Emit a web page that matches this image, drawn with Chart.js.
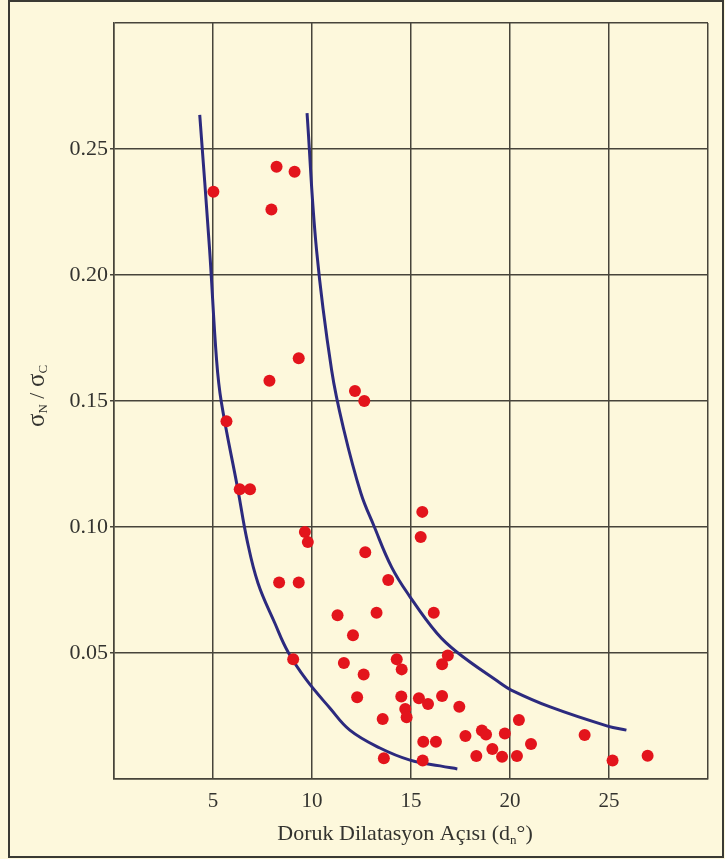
<!DOCTYPE html>
<html><head><meta charset="utf-8">
<script src="https://cdn.jsdelivr.net/npm/chart.js@4/dist/chart.umd.min.js"></script>
<style>html,body{margin:0;padding:0;background:#fdf8dc;}canvas{display:block}</style>
</head><body>
<canvas id="c" width="725" height="859"></canvas>
<script>
// ---- data ----
const xTicks = [0, 5, 10, 15, 20, 25, 30];
const yTicks = [0, 0.05, 0.10, 0.15, 0.20, 0.25, 0.30];
const xTitleMain = "Doruk Dilatasyon Açısı (d";
const xTitleSub = "n";
const xTitleEnd = "°)";
const yTitleParts = ["σ", "N", " / ", "σ", "C"];

const pointsX = [5.02, 8.21, 9.12, 7.95, 7.85, 9.33, 12.17, 12.64, 5.68, 6.35, 6.87,
  15.57, 15.49, 9.64, 9.79, 12.69, 8.34, 9.33, 11.29, 13.26, 12.07, 9.05, 11.61, 12.61,
  13.85, 16.15, 14.28, 14.53, 16.86, 16.57, 12.28, 14.51, 15.40, 15.86, 14.71, 14.78,
  13.57, 15.62, 16.26, 13.63, 15.59, 16.57, 17.44, 20.45, 23.77, 18.58, 18.79, 19.74,
  17.75, 21.06, 19.11, 18.30, 19.60, 20.35, 25.18, 26.95];
const pointsY = [0.233, 0.243, 0.241, 0.226, 0.158, 0.167, 0.154, 0.150, 0.142, 0.115, 0.115,
  0.106, 0.096, 0.098, 0.094, 0.090, 0.078, 0.078, 0.065, 0.066, 0.057, 0.0475, 0.046, 0.0415,
  0.079, 0.066, 0.0475, 0.0435, 0.049, 0.0455, 0.0324, 0.0327, 0.032, 0.0298, 0.0278, 0.0245,
  0.0238, 0.0148, 0.0148, 0.0082, 0.0073, 0.0329, 0.0287, 0.0234, 0.0175, 0.0192, 0.0177, 0.0181,
  0.0171, 0.0139, 0.0119, 0.0091, 0.0088, 0.0091, 0.0073, 0.0092];

const leftCurveX = [4.33, 4.83, 5.18, 5.42, 6.26, 6.72, 7.27, 8.12, 8.79, 9.72, 10.90, 11.91,
  13.43, 14.95, 16.47, 17.34];
const leftCurveY = [0.2635, 0.2099, 0.1663, 0.1496, 0.1147, 0.0948, 0.0778, 0.0619, 0.0504, 0.0393,
  0.0282, 0.0194, 0.0123, 0.0075, 0.0052, 0.004];

const rightCurveX = [9.75, 10.23, 10.99, 11.61, 12.47, 13.13, 14.02, 14.95, 16.30, 17.31, 19.50,
  20.06, 22.03, 24.93, 25.88];
const rightCurveY = [0.2642, 0.2099, 0.1623, 0.1385, 0.1134, 0.1004, 0.0841, 0.0723, 0.0579, 0.0504,
  0.0381, 0.0353, 0.0286, 0.0210, 0.0194];

// ---- styling ----
const BG = '#fdf8dc';
const GRID = '#47443a';
const TEXT = '#33332f';
const RED = '#e3141c';
const BLUE = '#2c2a7e';
const SERIF = '"Liberation Serif", "Times New Roman", serif';

const toXY = (xs, ys) => xs.map((x, i) => ({x: x, y: ys[i]}));
const isEdgeY = v => Math.abs(v) < 1e-9 || Math.abs(v - 0.3) < 1e-9;

const decor = {
  id: 'decor',
  beforeDraw(chart) {
    const ctx = chart.ctx;
    ctx.save();
    ctx.fillStyle = BG;
    ctx.fillRect(0, 0, chart.width, chart.height);
    ctx.restore();
  },
  afterDraw(chart) {
    const ctx = chart.ctx;
    ctx.save();
    ctx.strokeStyle = '#3a3a34';
    ctx.lineWidth = 2;
    ctx.strokeRect(9, 1, 714, 856);
    ctx.fillStyle = TEXT;
    ctx.textBaseline = 'alphabetic';
    const fMain = '22px ' + SERIF, fSub = '13px ' + SERIF;
    ctx.font = fMain;
    const w1 = ctx.measureText(xTitleMain).width;
    const w3 = ctx.measureText(xTitleEnd).width;
    ctx.font = fSub;
    const w2 = ctx.measureText(xTitleSub).width;
    const total = w1 + w2 + w3;
    let x = 405 - total / 2;
    const base = 840;
    ctx.font = fMain; ctx.fillText(xTitleMain, x, base); x += w1;
    ctx.font = fSub; ctx.fillText(xTitleSub, x, base + 4); x += w2;
    ctx.font = fMain; ctx.fillText(xTitleEnd, x, base);
    ctx.translate(44, 396);
    ctx.rotate(-Math.PI / 2);
    const fontsY = ['25px ' + SERIF, '13px ' + SERIF, '22px ' + SERIF, '25px ' + SERIF, '13px ' + SERIF];
    const offY = [0, 3, 0, 0, 3];
    let widths = yTitleParts.map((t, i) => { ctx.font = fontsY[i]; return ctx.measureText(t).width; });
    let tot = widths.reduce((a, b) => a + b, 0);
    let px = -tot / 2;
    yTitleParts.forEach((t, i) => {
      ctx.font = fontsY[i];
      ctx.fillText(t, px, offY[i]);
      px += widths[i];
    });
    ctx.restore();
  }
};

const curveStyle = {
  type: 'scatter',
  showLine: true,
  borderColor: BLUE,
  borderWidth: 3,
  pointRadius: 0,
  pointHoverRadius: 0,
  fill: false,
  tension: 0.4,
  cubicInterpolationMode: 'default',
  borderCapStyle: 'butt',
  borderJoinStyle: 'round',
  order: 1
};

new Chart(document.getElementById('c'), {
  type: 'scatter',
  data: {
    datasets: [
      {
        type: 'scatter',
        data: toXY(pointsX, pointsY),
        pointRadius: 6,
        pointHoverRadius: 6,
        backgroundColor: RED,
        borderWidth: 0,
        order: 0
      },
      Object.assign({ data: toXY(leftCurveX, leftCurveY) }, curveStyle),
      Object.assign({ data: toXY(rightCurveX, rightCurveY) }, curveStyle)
    ]
  },
  options: {
    responsive: false,
    animation: false,
    devicePixelRatio: 1,
    elements: { line: { tension: 0.4 } },
    layout: { padding: { top: 23, right: 17, left: 0, bottom: 0 } },
    plugins: { legend: { display: false }, tooltip: { enabled: false } },
    scales: {
      x: {
        type: 'linear',
        min: 0, max: 30,
        afterBuildTicks: s => { s.ticks = xTicks.map(v => ({value: v})); },
        afterFit: s => { s.height = 80; },
        ticks: {
          autoSkip: false,
          maxRotation: 0,
          padding: 10,
          color: TEXT,
          font: { family: SERIF, size: 21 },
          callback: v => (v === 0 || v === 30) ? '' : String(v)
        },
        grid: { color: GRID, lineWidth: 1.5, drawTicks: false },
        border: { display: true, color: GRID, width: 1.5 }
      },
      y: {
        type: 'linear',
        min: 0, max: 0.3,
        afterBuildTicks: s => { s.ticks = yTicks.map(v => ({value: v})); },
        afterFit: s => { s.width = 114; },
        ticks: {
          autoSkip: false,
          padding: 2,
          color: TEXT,
          font: { family: SERIF, size: 22 },
          callback: v => isEdgeY(v) ? '' : Number(v).toFixed(2)
        },
        grid: {
          color: GRID, lineWidth: 1.5, tickLength: 4,
          tickColor: c => (c.tick && isEdgeY(c.tick.value)) ? 'rgba(0,0,0,0)' : GRID
        },
        border: { display: true, color: GRID, width: 1.5 }
      }
    }
  },
  plugins: [decor]
});
</script>
</body></html>
